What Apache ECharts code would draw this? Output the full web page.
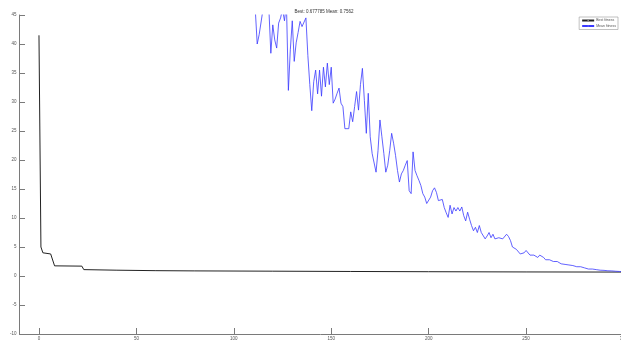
<!DOCTYPE html>
<html>
<head>
<meta charset="utf-8">
<script src="https://cdn.jsdelivr.net/npm/echarts@6/dist/echarts.min.js"></script>
<style>
html,body{margin:0;padding:0;background:#fff;}
#chart{width:621px;height:342px;}
</style>
</head>
<body>
<div id="chart"></div>
<script>
// ---- data ----
const titleText = 'Best: 0.677785 Mean: 0.7562';
const seriesNames = ['Best fitness', 'Mean fitness'];
const xTicks = [0, 50, 100, 150, 200, 250, 300];
const yTicks = [-10, -5, 0, 5, 10, 15, 20, 25, 30, 35, 40, 45];

// Best fitness (generation, value) at points where it changes
const bestGens = [0, 1, 2, 6, 7, 8, 22, 23, 40, 60, 80, 120, 160, 200, 250, 300];
const bestVals = [41.5, 5.0, 4.0, 3.8, 3.6, 1.75, 1.7, 1.1, 1.0, 0.92, 0.88, 0.83, 0.78, 0.74, 0.70, 0.678];

// Mean fitness, one value per generation starting at meanStart
const meanStart = 110;
const meanVals = [
  48, 46, 40, 41.6, 41.9, 46, 48, 48, 46, 38.4,
  43.3, 40.7, 39.3, 43.6, 44.5, 46, 44, 47, 32, 39,
  44, 37, 40.2, 42, 43.9, 43, 43.3, 44.5, 38, 33,
  28.5, 33.5, 35.5, 31.4, 35.5, 31, 36, 32.6, 36.7, 33,
  36, 29.8, 30.5, 31.5, 32.4, 29.8, 29.2, 25.4, 25.6, 25.4,
  28.3, 26.6, 29.2, 31.8, 28.6, 33, 35.8, 30.3, 24.6, 31.5,
  24, 21.1, 20.8, 17.9, 21.6, 26.9, 24, 21.1, 17.9, 19.1,
  21.6, 24.6, 22.9, 20.8, 18.2, 16.2, 17.6, 18.2, 19.1, 19.9,
  14.7, 14.2, 21.4, 18.2, 17.3, 16.5, 15.6, 14.2, 13.6, 12.5,
  12.8, 13.6, 14.7, 15.2, 14.4, 13, 13.3, 13.2, 11.8, 10.9,
  10.1, 12.2, 10.7, 11.8, 11.2, 11.8, 11.2, 11.9, 10.4, 9.5,
  11, 9.8, 8.7, 7.8, 8.4, 7.5, 8.7, 7.5, 7.2, 6.4,
  6.9, 7.5, 6.6, 7.2, 6.4, 6.1, 6.6, 6.9, 6.4, 6.6,
  7.2, 6.8, 6.1, 5.0, 4.9, 4.6, 4.3, 3.8, 3.6, 4.0,
  4.4, 4.3, 3.6, 3.5, 3.6, 3.4, 3.2, 3.6, 3.4, 3.2,
  2.8, 2.7, 2.8, 2.7, 2.5, 2.4, 2.5, 2.2, 2.1, 2.2,
  2.0, 2.1, 1.9, 1.8, 1.8, 1.7, 1.6, 1.5, 1.6, 1.4,
  1.4, 1.3, 1.2, 1.2, 1.2, 1.1, 1.1, 1.0, 1.0, 1.0,
  0.97, 0.95, 0.9, 0.9, 0.88, 0.85, 0.82, 0.8, 0.78, 0.77, 0.756
];

// ---- chart ----
const bestData = bestGens.map((g, i) => [g, bestVals[i]]);
const meanData = meanVals.map((v, i) => [meanStart + i, v]);

const FONT = '"Liberation Sans", Arial, sans-serif';
const AXIS = '#7a7a7a';

const chart = echarts.init(document.getElementById('chart'), null, {renderer: 'canvas'});
chart.setOption({
  animation: false,
  backgroundColor: '#ffffff',
  title: {
    text: titleText,
    left: 319, textAlign: 'center', top: 4,
    textStyle: {fontSize: 4.5, fontWeight: 'normal', color: '#333', fontFamily: FONT}
  },
  legend: {
    data: seriesNames,
    orient: 'vertical',
    right: 3, top: 17,
    padding: [1.5, 2, 1.5, 2],
    itemGap: 1.5,
    itemWidth: 12, itemHeight: 2,
    borderColor: '#999', borderWidth: 0.6,
    backgroundColor: '#fff',
    textStyle: {fontSize: 3.5, color: '#555', fontFamily: FONT, padding: [0, 0, 0, -3]}
  },
  grid: {left: 19.5, top: 15, width: 604, height: 319, containLabel: false, outerBoundsMode: 'none'},
  xAxis: {
    type: 'value', min: -10, max: 300,
    name: 'Generation', nameLocation: 'middle', nameGap: 7,
    nameTextStyle: {fontSize: 4.5, color: '#555', fontFamily: FONT},
    axisLine: {onZero: false, lineStyle: {color: AXIS, width: 1}},
    axisTick: {inside: true, length: 6, customValues: xTicks, lineStyle: {color: AXIS}},
    axisLabel: {customValues: xTicks, fontSize: 4.5, color: '#555', margin: 2.5, fontFamily: FONT},
    splitLine: {show: false}
  },
  yAxis: {
    type: 'value', min: -10, max: 45, interval: 5,
    name: 'Fitness value', nameLocation: 'middle', nameGap: 12, nameRotate: 90,
    nameTextStyle: {fontSize: 4.5, color: '#555', fontFamily: FONT},
    axisLine: {show: true, onZero: false, lineStyle: {color: AXIS, width: 1}},
    axisTick: {show: true, inside: true, length: 5.5, lineStyle: {color: AXIS}},
    axisLabel: {fontSize: 4.5, color: '#555', margin: 3, fontFamily: FONT},
    splitLine: {show: false}
  },
  series: [
    {
      name: seriesNames[0], type: 'line', data: bestData,
      symbol: 'none', clip: true,
      lineStyle: {color: '#222', width: 1},
      itemStyle: {color: '#999'}
    },
    {
      name: seriesNames[1], type: 'line', data: meanData,
      symbol: 'none', clip: true,
      lineStyle: {color: '#3a3aff', width: 0.8},
      itemStyle: {color: '#6666ff'}
    }
  ]
});
</script>
</body>
</html>
